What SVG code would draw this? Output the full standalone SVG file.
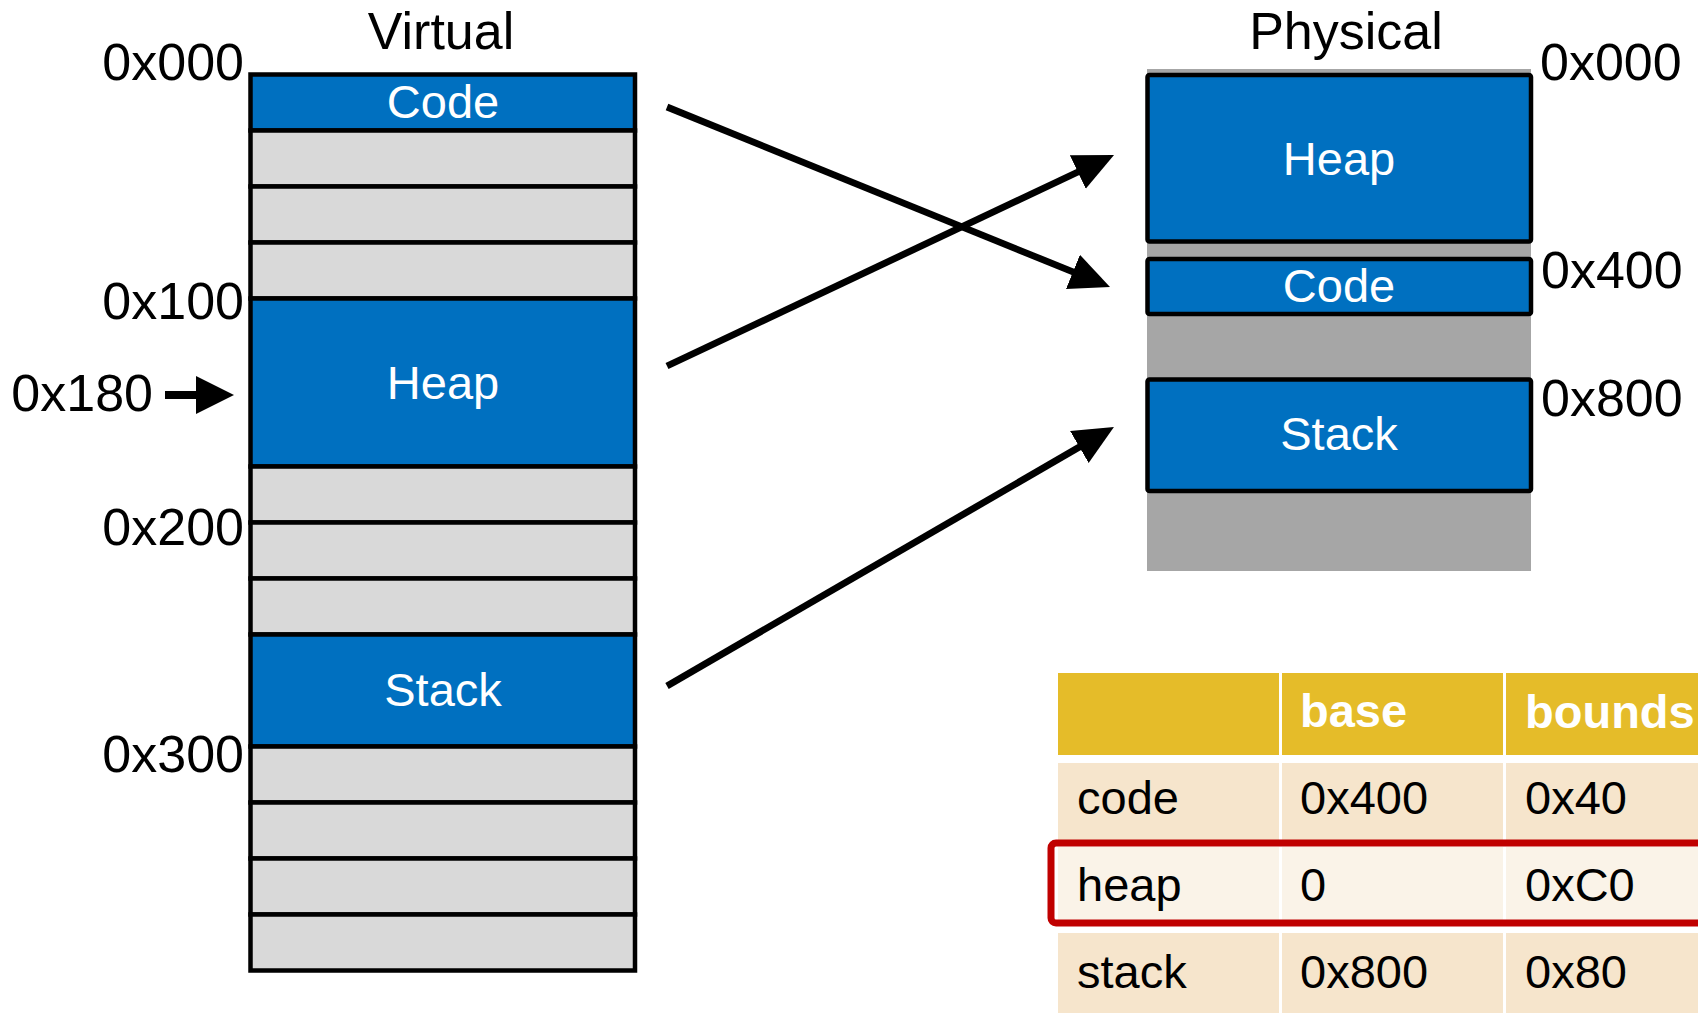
<svg xmlns="http://www.w3.org/2000/svg" width="1698" height="1013" viewBox="0 0 1698 1013">
<defs>
<style>
.lbl{font-family:"Liberation Sans",Arial,Helvetica,sans-serif;font-size:52px;fill:#000}
.blk{font-family:"Liberation Sans",Arial,Helvetica,sans-serif;font-size:47px;fill:#fff;text-anchor:middle}
.cell{font-family:"Liberation Sans",Arial,Helvetica,sans-serif;font-size:47px;fill:#000}
.head{font-family:"Liberation Sans",Arial,Helvetica,sans-serif;font-size:47px;font-weight:bold;fill:#fff}
.vrow{fill:#D9D9D9;stroke:#000;stroke-width:4.5}
.vblue{fill:#0070C0;stroke:#000;stroke-width:4.5}
.pblue{fill:#0070C0;stroke:#000;stroke-width:4.5}
.conn{stroke:#000;stroke-width:6.8;fill:none}
</style>
<marker id="ah" markerUnits="userSpaceOnUse" markerWidth="40" markerHeight="38" refX="10" refY="18.5" orient="auto" viewBox="0 0 40 37">
<path d="M0,0 L40,18.5 L0,37 z" fill="#000"/>
</marker>
</defs>
<rect width="1698" height="1013" fill="#fff"/>

<g id="virtual">
<text class="lbl" x="441" y="49" text-anchor="middle">Virtual</text>
<g id="v-code">
<rect class="vblue" x="250.5" y="74.5" width="384.5" height="56"/>
<text class="blk" x="443" y="118">Code</text>
</g>
<rect class="vrow" x="250.5" y="130.5" width="384.5" height="56"/>
<rect class="vrow" x="250.5" y="186.5" width="384.5" height="56"/>
<rect class="vrow" x="250.5" y="242.5" width="384.5" height="56"/>
<g id="v-heap">
<rect class="vblue" x="250.5" y="298.5" width="384.5" height="168"/>
<text class="blk" x="443" y="399">Heap</text>
</g>
<rect class="vrow" x="250.5" y="466.5" width="384.5" height="56"/>
<rect class="vrow" x="250.5" y="522.5" width="384.5" height="56"/>
<rect class="vrow" x="250.5" y="578.5" width="384.5" height="56"/>
<g id="v-stack">
<rect class="vblue" x="250.5" y="634.5" width="384.5" height="112"/>
<text class="blk" x="443" y="706">Stack</text>
</g>
<rect class="vrow" x="250.5" y="746.5" width="384.5" height="56"/>
<rect class="vrow" x="250.5" y="802.5" width="384.5" height="56"/>
<rect class="vrow" x="250.5" y="858.5" width="384.5" height="56"/>
<rect class="vrow" x="250.5" y="914.5" width="384.5" height="56"/>
<text class="lbl" x="244" y="80" text-anchor="end">0x000</text>
<text class="lbl" x="244" y="319" text-anchor="end">0x100</text>
<text class="lbl" x="153" y="411" text-anchor="end">0x180</text>
<text class="lbl" x="244" y="545" text-anchor="end">0x200</text>
<text class="lbl" x="244" y="772" text-anchor="end">0x300</text>
</g>

<g id="physical">
<text class="lbl" x="1346" y="49" text-anchor="middle">Physical</text>
<rect x="1147" y="69" width="384" height="502" fill="#A6A6A6"/>
<g id="p-heap">
<rect class="pblue" x="1147.5" y="75" width="383.5" height="166.5" rx="2"/>
<text class="blk" x="1339" y="175">Heap</text>
</g>
<g id="p-code">
<rect class="pblue" x="1147.5" y="259" width="383.5" height="55" rx="2"/>
<text class="blk" x="1339" y="302">Code</text>
</g>
<g id="p-stack">
<rect class="pblue" x="1147.5" y="379.5" width="383.5" height="111.5" rx="2"/>
<text class="blk" x="1339" y="450">Stack</text>
</g>
<text class="lbl" x="1540" y="80">0x000</text>
<text class="lbl" x="1541" y="288">0x400</text>
<text class="lbl" x="1541" y="416">0x800</text>
</g>

<g id="connectors">
<line class="conn" x1="667" y1="107" x2="1082.2" y2="275.7" marker-end="url(#ah)"/>
<line class="conn" x1="667" y1="366" x2="1086.9" y2="167.8" marker-end="url(#ah)"/>
<line class="conn" x1="667" y1="686" x2="1088" y2="442" marker-end="url(#ah)"/>
<line x1="165" y1="395" x2="198" y2="395" stroke="#000" stroke-width="8"/>
<polygon points="196,376 234,395 196,414" fill="#000"/>
</g>

<g id="table">
<rect x="1058" y="673" width="221" height="82" fill="#E5BC29"/>
<rect x="1282" y="673" width="221" height="82" fill="#E5BC29"/>
<rect x="1506" y="673" width="200" height="82" fill="#E5BC29"/>
<text class="head" x="1300" y="727">base</text>
<text class="head" x="1525" y="728">bounds</text>

<rect x="1058" y="763" width="221" height="77" fill="#F6E5CC"/>
<rect x="1282" y="763" width="221" height="77" fill="#F6E5CC"/>
<rect x="1506" y="763" width="200" height="77" fill="#F6E5CC"/>
<text class="cell" x="1077" y="814">code</text>
<text class="cell" x="1300" y="814">0x400</text>
<text class="cell" x="1525" y="814">0x40</text>

<rect x="1058" y="847" width="221" height="78" fill="#FAF3E8"/>
<rect x="1282" y="847" width="221" height="78" fill="#FAF3E8"/>
<rect x="1506" y="847" width="200" height="78" fill="#FAF3E8"/>
<text class="cell" x="1077" y="901">heap</text>
<text class="cell" x="1300" y="901">0</text>
<text class="cell" x="1525" y="901">0xC0</text>

<rect x="1058" y="933" width="221" height="90" fill="#F6E5CC"/>
<rect x="1282" y="933" width="221" height="90" fill="#F6E5CC"/>
<rect x="1506" y="933" width="200" height="90" fill="#F6E5CC"/>
<text class="cell" x="1077" y="988">stack</text>
<text class="cell" x="1300" y="988">0x800</text>
<text class="cell" x="1525" y="988">0x80</text>

<rect x="1051" y="843" width="700" height="80" rx="5" fill="none" stroke="#C00000" stroke-width="7"/>
</g>
</svg>
